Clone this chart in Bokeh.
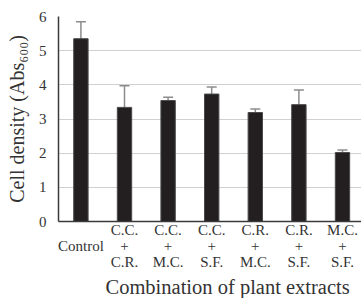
from bokeh.plotting import figure
from bokeh.models import ColumnDataSource, Whisker, TeeHead, FixedTicker, Range1d, Grid, Title
from bokeh.embed import file_html
from bokeh.resources import INLINE

categories = ["Control", "C.C.\n+\nC.R.", "C.C.\n+\nM.C.", "C.C.\n+\nS.F.",
              "C.R.\n+\nM.C.", "C.R.\n+\nS.F.", "M.C.\n+\nS.F."]
tick_labels = ["\u00a0\nControl\n\u00a0", "C.C.\n+\nC.R.", "C.C.\n+\nM.C.", "C.C.\n+\nS.F.",
               "C.R.\n+\nM.C.", "C.R.\n+\nS.F.", "M.C.\n+\nS.F."]
means = [5.35, 3.34, 3.54, 3.73, 3.19, 3.42, 2.02]
errors = [0.50, 0.63, 0.10, 0.21, 0.10, 0.43, 0.07]
y_ticks = [0, 1, 2, 3, 4, 5, 6]
x_title = "Combination of plant extracts"
y_title = "Cell density (Abs\u2086\u2080\u2080)"

xs = list(range(len(categories)))
source = ColumnDataSource(dict(
    x=xs, top=means,
    upper=[m + e for m, e in zip(means, errors)],
    lower=[m - e for m, e in zip(means, errors)],
))

FONT = "Liberation Serif"

p = figure(width=361, height=298, output_backend="svg", toolbar_location=None,
           x_range=Range1d(-0.514, 6.436), y_range=Range1d(0, 6),
           min_border_left=58, min_border_right=0, min_border_top=16, min_border_bottom=0)
p.outline_line_color = None
p.background_fill_color = "white"
p.border_fill_color = "white"

p.vbar(x="x", top="top", width=0.33, source=source,
       fill_color="#231f20", line_color="#4a4a4a", line_width=1)

w = Whisker(base="x", upper="upper", lower="lower", source=source,
            line_color="#8c8c8c", line_width=1.5,
            upper_head=TeeHead(size=10, line_color="#8c8c8c", line_width=1.5),
            lower_head=TeeHead(size=10, line_color="#8c8c8c", line_width=1.5))
p.add_layout(w)

p.xgrid.grid_line_color = None
p.ygrid.ticker = FixedTicker(ticks=y_ticks[1:-1])
p.ygrid.grid_line_color = "#d0d0d0"
p.ygrid.grid_line_width = 1.2
top_grid = Grid(dimension=1, ticker=FixedTicker(ticks=[6]),
                grid_line_color="#7a7a7a", grid_line_width=2)
p.add_layout(top_grid)

p.xaxis.ticker = FixedTicker(ticks=xs)
p.xaxis.major_label_overrides = {i: lab for i, lab in zip(xs, tick_labels)}
p.xaxis.major_tick_line_color = None
p.xaxis.minor_tick_line_color = None
p.xaxis.major_tick_out = 0
p.xaxis.major_tick_in = 0
p.xaxis.axis_line_color = "#3a3a3a"
p.xaxis.axis_line_width = 1.5
p.xaxis.major_label_text_font = FONT
p.xaxis.major_label_text_font_size = "15px"
p.xaxis.major_label_text_color = "#333333"
p.xaxis.major_label_text_line_height = 1.02
p.xaxis.major_label_standoff = 0

xt = Title(text=x_title, align="left", offset=47, text_font=FONT,
           text_font_size="20.5px", text_font_style="normal", text_color="#333333",
           standoff=1)
p.add_layout(xt, "below")

p.yaxis.ticker = FixedTicker(ticks=y_ticks)
p.yaxis.major_tick_line_color = None
p.yaxis.minor_tick_line_color = None
p.yaxis.major_tick_out = 0
p.yaxis.major_tick_in = 0
p.yaxis.axis_line_color = "#3a3a3a"
p.yaxis.axis_line_width = 1.5
p.yaxis.major_label_text_font = FONT
p.yaxis.major_label_text_font_size = "15px"
p.yaxis.major_label_text_color = "#333333"
p.yaxis.major_label_standoff = 12
p.yaxis.axis_label = y_title
p.yaxis.axis_label_text_font = FONT
p.yaxis.axis_label_text_font_size = "20px"
p.yaxis.axis_label_text_font_style = "normal"
p.yaxis.axis_label_text_color = "#333333"
p.yaxis.axis_label_standoff = 8

open("out.html", "w").write(file_html(p, INLINE))
